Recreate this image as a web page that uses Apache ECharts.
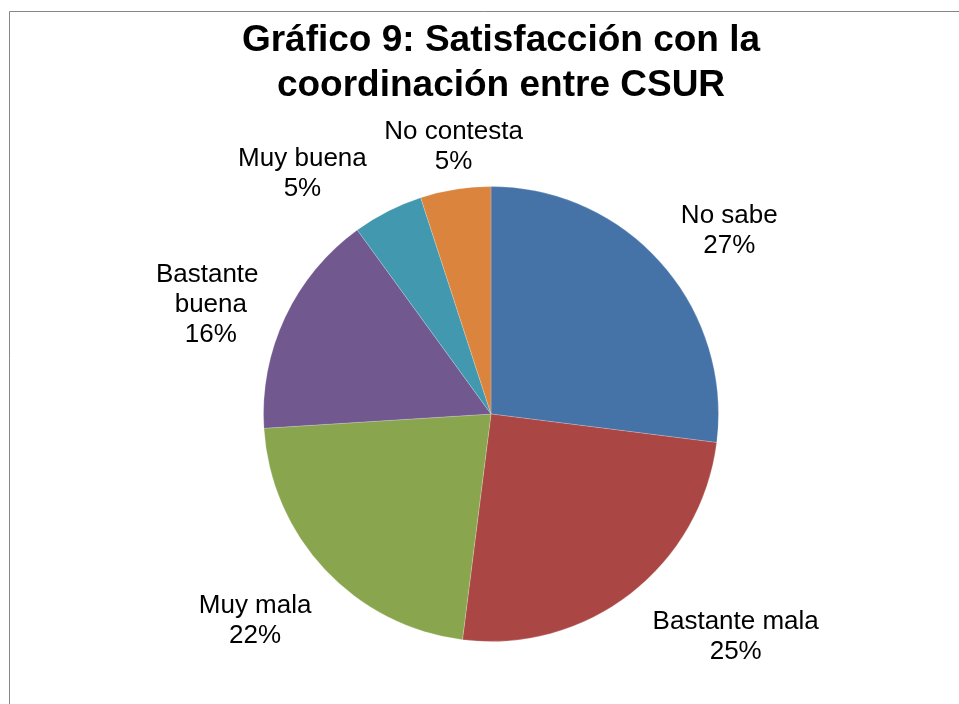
<!DOCTYPE html>
<html>
<head>
<meta charset="utf-8">
<script src="https://cdn.jsdelivr.net/npm/echarts@6/dist/echarts.min.js"></script>
<style>
  html, body { margin: 0; padding: 0; background: #ffffff; }
  #chart { width: 959px; height: 704px; }
</style>
</head>
<body>
<div id="chart"></div>
<script>
// Survey answers and their shares (%)
const categories = ['No sabe', 'Bastante mala', 'Muy mala', 'Bastante buena', 'Muy buena', 'No contesta'];
const percentages = [27, 25, 22, 16, 5, 5];
const sliceColors = ['#4572A7', '#AA4643', '#89A54E', '#71588F', '#4198AF', '#DB843D'];

// Small nudges of each label away from the middle of the label ring
const labelNudges = [[11, 17], [59, -17], [-15, -1], [-6, 20], [-51, 30], [10, 32]];
// Labels that wrap their category name onto several lines
const wrapWidths = [null, null, null, 110, null, null];

const FONT = '"Liberation Sans", Arial, sans-serif';
const CENTER = [491, 414];

const chart = echarts.init(document.getElementById('chart'), null, { renderer: 'canvas' });

const sliceData = categories.map((name, i) => ({
  name: name,
  value: percentages[i],
  itemStyle: { color: sliceColors[i] }
}));

const labelData = categories.map((name, i) => {
  const item = { name: name, value: percentages[i] };
  if (wrapWidths[i]) {
    item.label = { width: wrapWidths[i], overflow: 'break' };
  }
  return item;
});

chart.setOption({
  animation: false,
  backgroundColor: '#ffffff',
  title: {
    text: 'Gráfico 9: Satisfacción con la\ncoordinación entre CSUR',
    left: 501,
    top: 18,
    padding: 0,
    textAlign: 'center',
    textStyle: {
      fontFamily: FONT,
      fontWeight: 'bold',
      fontSize: 37,
      lineHeight: 45,
      color: '#000000'
    }
  },
  graphic: [{
    type: 'rect',
    silent: true,
    shape: { x: 9.5, y: 11.5, width: 1000, height: 1000 },
    style: { fill: 'none', stroke: '#868686', lineWidth: 1 }
  }],
  series: [
    {
      // the pie itself
      type: 'pie',
      center: CENTER,
      radius: [0, 227.5],
      startAngle: 90,
      clockwise: true,
      silent: true,
      label: { show: false },
      labelLine: { show: false },
      itemStyle: { borderColor: 'rgba(255,255,255,0.4)', borderWidth: 0.5 },
      emphasis: { disabled: true },
      data: sliceData
    },
    {
      // invisible ring that carries the category labels around the pie
      type: 'pie',
      center: CENTER,
      radius: [270, 330],
      startAngle: 90,
      clockwise: true,
      silent: true,
      z: 3,
      itemStyle: { color: 'rgba(0,0,0,0)', borderWidth: 0 },
      emphasis: { disabled: true },
      labelLine: { show: false },
      label: {
        show: true,
        position: 'inside',
        formatter: '{b}\n{c}%',
        fontFamily: FONT,
        fontSize: 26,
        lineHeight: 30,
        color: '#000000',
        align: 'center',
        overflow: 'none'
      },
      labelLayout: function (params) {
        const n = labelNudges[params.dataIndex];
        return { dx: n[0], dy: n[1] };
      },
      data: labelData
    }
  ]
});
</script>
</body>
</html>
